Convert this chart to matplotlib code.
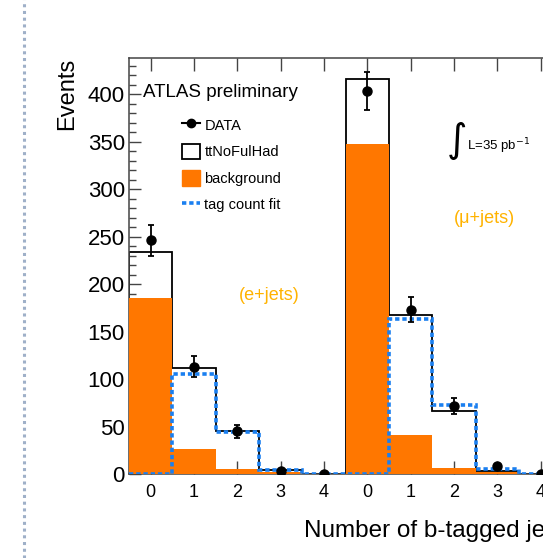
#!/usr/bin/env python3

import numpy as np
import matplotlib
matplotlib.use("Agg")
import matplotlib.pyplot as plt
from matplotlib.lines import Line2D
from matplotlib.patches import Patch
from matplotlib.ticker import MultipleLocator

# bins: e+jets (0..4) followed by mu+jets (0..4)
tick_labels = ["0", "1", "2", "3", "4", "0", "1", "2", "3", "4"]
background = [185, 26, 5, 2, 0.3, 347, 41, 6, 2, 0.3]
total = [234, 112, 45, 4, 0.5, 416, 167, 66, 3.5, 0.5]      # background + ttNoFulHad
tag_fit = [0, 105, 44.5, 4, 0.5, 0, 163, 72.5, 5.3, 0.5]
data = [246, 113, 45, 3, 0, 403, 173, 72, 8, 0]
data_err = [16, 11, 7, 2, 0, 20, 13, 8.5, 3, 0]

orange = "#ff7700"
blue = "#1a7ff0"
label_col = "#ffb300"

plt.rcParams['font.family'] = ['Liberation Sans', 'DejaVu Sans']

fig = plt.figure(figsize=(5.43, 5.58), dpi=100)
ax = fig.add_axes([0.2376, 0.1505, 0.798, 0.7455])

x = np.arange(len(data))
edges = np.arange(len(data) + 1) - 0.5

# stacked histogram: total (white fill, black outline) then background on top
ax.stairs(total, edges, fill=True, color="white", zorder=1)
ax.stairs(total, edges, color="black", linewidth=1.3, baseline=0, zorder=2)
ax.bar(x, background, width=1.0, color=orange, linewidth=0, zorder=3)
ax.stairs(tag_fit, edges, color=blue, linestyle=(0, (1.2, 0.8)), linewidth=2.6,
          baseline=None, zorder=4)
ax.errorbar(x, data, yerr=data_err, fmt="o", color="black", markersize=6.5,
            elinewidth=1.3, capsize=2.5, capthick=1.3, zorder=5)

ax.set_xlim(-0.5, 9.5)
ax.set_ylim(0, 438)
ax.set_xticks(x)
ax.set_xticklabels(tick_labels)
ax.yaxis.set_major_locator(MultipleLocator(50))
ax.yaxis.set_minor_locator(MultipleLocator(10))

ax.tick_params(axis="x", direction="in", length=9.5, width=1, top=True, bottom=True,
               labelsize=13, pad=7, color="#444444")
ax.tick_params(axis="y", which="major", direction="in", length=8.5, width=1,
               labelsize=16, pad=3, color="#444444", right=False)
ax.tick_params(axis="y", which="minor", direction="in", length=5, width=1,
               color="#444444", right=False)
for s in ["left", "top", "bottom", "right"]:
    ax.spines[s].set_color("#444444")
    ax.spines[s].set_linewidth(1.1)

ax.set_xlabel("Number of b-tagged jets", fontsize=17.5, ha="right", va="top")
ax.xaxis.set_label_coords(1.004, -0.11)
ax.set_ylabel("Events", fontsize=17, rotation=90, ha="right", va="center",
              rotation_mode="anchor")
ax.yaxis.set_label_coords(-0.143, 1.0)

ax.text(0.032, 0.916, "ATLAS preliminary", transform=ax.transAxes, fontsize=13.5,
        va="center", ha="left")

handles = [
    Line2D([], [], color="black", marker="o", markersize=6, linewidth=1.5),
    Patch(facecolor="white", edgecolor="black", linewidth=1.3),
    Patch(facecolor=orange, edgecolor=orange),
    Line2D([], [], color=blue, linestyle=(0, (1.2, 0.8)), linewidth=2.6),
]
labels = ["DATA", "ttNoFulHad", "background", "tag count fit"]
ax.legend(handles, labels, loc="upper left", bbox_to_anchor=(0.122, 0.858),
          frameon=False, fontsize=10.5, borderpad=0, borderaxespad=0,
          handlelength=1.25, handleheight=1.25, handletextpad=0.3, labelspacing=0.75)

ax.text(0.755, 0.800, r"$\int$", transform=ax.transAxes, fontsize=20, ha="center",
        va="center", math_fontfamily="dejavusans")
ax.text(0.78, 0.787, "L=35 pb$^{-1}$", transform=ax.transAxes, fontsize=9.5,
        ha="left", va="center")
ax.text(0.821, 0.615, "(\u03bc+jets)", transform=ax.transAxes, fontsize=13,
        color=label_col, ha="center", va="center")
ax.text(0.323, 0.428, "(e+jets)", transform=ax.transAxes, fontsize=13,
        color=label_col, ha="center", va="center")

# dotted page separator on the left
fig.add_artist(Line2D([24 / 543, 24 / 543], [0, 1], transform=fig.transFigure,
                      color="#9fb0c8", linestyle=(0, (1, 1.2)), linewidth=2.2))

fig.savefig("out.png", dpi=100)
